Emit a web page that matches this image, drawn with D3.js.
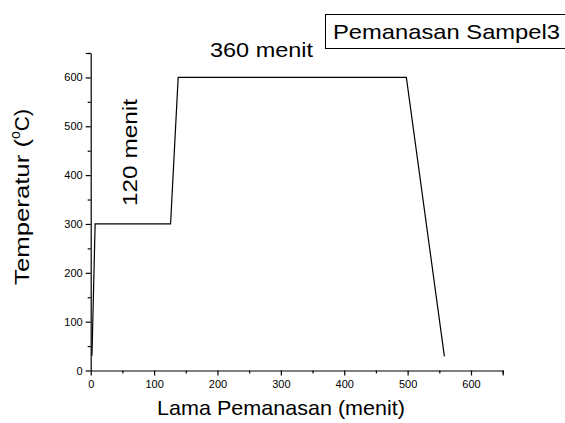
<!DOCTYPE html>
<html>
<head>
<meta charset="utf-8">
<script src="https://cdn.jsdelivr.net/npm/d3@7"></script>
<style>
  body { margin: 0; background: #fff; }
  svg { display: block; font-family: "Liberation Sans", Arial, sans-serif; }
</style>
</head>
<body>
<script>
// heating profile, sample 3
var timeMin = [2, 7, 126, 138, 498, 558];
var tempC   = [30, 300, 300, 600, 600, 29];
var xTicks = [0, 100, 200, 300, 400, 500, 600];
var yTicks = [0, 100, 200, 300, 400, 500, 600];

var W = 565, H = 423;
var svg = d3.select("body").append("svg").attr("width", W).attr("height", H);

var x = d3.scaleLinear().domain([0, 650]).range([90.7, 502.7]);
var y = d3.scaleLinear().domain([0, 650]).range([370.5, 53]);

// minor ticks
svg.append("g").attr("transform", "translate(0," + y(0) + ")")
  .call(d3.axisBottom(x).tickValues(d3.range(50, 651, 100)).tickSize(3).tickFormat(""))
  .call(function(g){ g.select(".domain").remove(); });
svg.append("g").attr("transform", "translate(" + x(0) + ",0)")
  .call(d3.axisLeft(y).tickValues(d3.range(50, 651, 100)).tickSize(3).tickFormat(""))
  .call(function(g){ g.select(".domain").remove(); });

var xAxis = svg.append("g").attr("transform", "translate(0," + y(0) + ")")
  .call(d3.axisBottom(x).tickValues(xTicks.concat([650])).tickSize(5).tickSizeOuter(0)
    .tickFormat(function(d){ return d === 650 ? "" : d; }));
xAxis.selectAll("text").attr("font-size", 11).attr("dy", "0.85em").attr("fill", "#000");

var yAxis = svg.append("g").attr("transform", "translate(" + x(0) + ",0)")
  .call(d3.axisLeft(y).tickValues(yTicks.concat([650])).tickSize(5).tickSizeOuter(0)
    .tickFormat(function(d){ return d === 650 ? "" : d; }));
yAxis.selectAll("text").attr("font-size", 11).attr("fill", "#000");

svg.selectAll(".domain, .tick line").attr("stroke", "#000").attr("stroke-width", 1.2);

var line = d3.line().x(function(d, i){ return x(timeMin[i]); }).y(function(d){ return y(d); });
svg.append("path").datum(tempC).attr("d", line)
  .attr("fill", "none").attr("stroke", "#000").attr("stroke-width", 1.2);

function wide(sel, len) {
  return sel.attr("textLength", len).attr("lengthAdjust", "spacingAndGlyphs");
}

// annotations
wide(svg.append("text").attr("x", 210).attr("y", 57).attr("font-size", 21)
  .text("360 menit"), 103);
wide(svg.append("text").attr("transform", "translate(137,206) rotate(-90)")
  .attr("font-size", 21).text("120 menit"), 107);

// legend box
svg.append("rect").attr("x", 325.5).attr("y", 14.5).attr("width", 250).attr("height", 34)
  .attr("fill", "#fff").attr("stroke", "#000");
wide(svg.append("text").attr("x", 333).attr("y", 38.5).attr("font-size", 21)
  .text("Pemanasan Sampel3"), 227);

// axis titles
wide(svg.append("text").attr("x", 157).attr("y", 415).attr("font-size", 21)
  .text("Lama Pemanasan (menit)"), 248);
var yt = svg.append("text").attr("transform", "translate(29,285) rotate(-90)")
  .attr("font-size", 21);
wide(yt.append("tspan").text("Temperatur ("), 146);
yt.append("tspan").attr("font-size", 14).attr("dy", -9).text("o");
yt.append("tspan").attr("dy", 9).text("C)");
</script>
</body>
</html>
